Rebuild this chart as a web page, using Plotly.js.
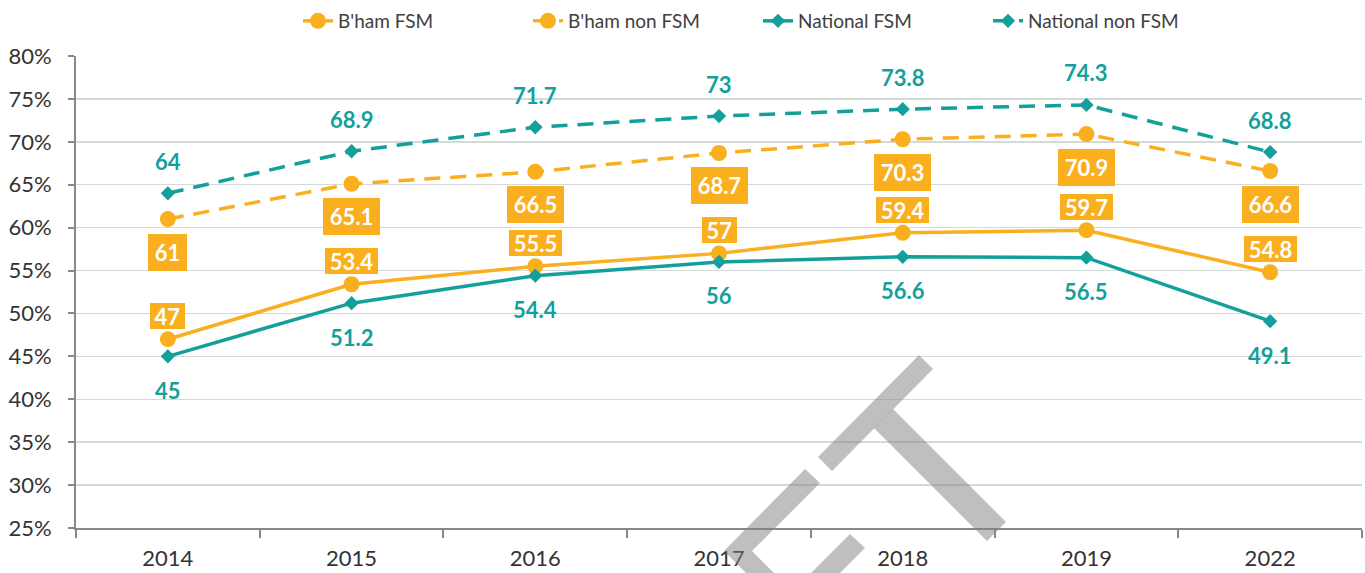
<!DOCTYPE html>
<html>
<head>
<meta charset="utf-8">
<script src="https://cdn.plot.ly/plotly-3.0.1.min.js"></script>
<style>html,body{margin:0;padding:0;background:#fff;}#chart{width:1365px;height:573px;}</style>
</head>
<body>
<div id="chart"></div>
<script>
// ---- data ----
const years = ['2014', '2015', '2016', '2017', '2018', '2019', '2022'];
const bhamFSM = [47, 53.4, 55.5, 57, 59.4, 59.7, 54.8];
const bhamNonFSM = [61, 65.1, 66.5, 68.7, 70.3, 70.9, 66.6];
const nationalFSM = [45, 51.2, 54.4, 56, 56.6, 56.5, 49.1];
const nationalNonFSM = [64, 68.9, 71.7, 73, 73.8, 74.3, 68.8];
const seriesNames = ["B'ham FSM", "B'ham non FSM", "National FSM", "National non FSM"];
const yTicks = [25, 30, 35, 40, 45, 50, 55, 60, 65, 70, 75, 80];

// ---- style ----
const ORANGE = '#F9AF1E';
const TEAL = '#14A09A';
const FONT = 'Lato, sans-serif';
const W = 1365, H = 573;
const M = {l: 76, r: 3, t: 56, b: 45};

const traces = [
  {x: years, y: bhamFSM, name: seriesNames[0], type: 'scatter', mode: 'lines+markers',
   line: {color: ORANGE, width: 3.5}, marker: {symbol: 'circle', size: 16, color: ORANGE}},
  {x: years, y: bhamNonFSM, name: seriesNames[1], type: 'scatter', mode: 'lines+markers',
   line: {color: ORANGE, width: 3.5, dash: '16px,10px'}, marker: {symbol: 'circle', size: 16, color: ORANGE}},
  {x: years, y: nationalFSM, name: seriesNames[2], type: 'scatter', mode: 'lines+markers',
   line: {color: TEAL, width: 3.5}, marker: {symbol: 'diamond', size: 11, color: TEAL}},
  {x: years, y: nationalNonFSM, name: seriesNames[3], type: 'scatter', mode: 'lines+markers',
   line: {color: TEAL, width: 3.5, dash: '16px,10px'}, marker: {symbol: 'diamond', size: 11, color: TEAL}}
];

// approximate bold label width (for box sizing)
function tw(s) { return s.replace('.', '').length * 12.8 + (s.indexOf('.') >= 0 ? 5.5 : 0); }

const annotations = [];
function addLabels(vals, opts) {
  vals.forEach((v, i) => {
    const t = String(v);
    // on a category axis, annotation x is the category index
    const a = {x: i, y: v, xref: 'x', yref: 'y', text: '<b>' + t + '</b>', showarrow: false,
      yshift: opts.shift, font: {family: FONT, size: 22, color: opts.color}};
    if (opts.box) {
      a.bgcolor = ORANGE; a.borderpad = 0; a.borderwidth = 0;
      a.width = Math.round(tw(t) + opts.padW); a.height = opts.boxH;
    }
    annotations.push(a);
  });
}
addLabels(nationalNonFSM, {shift: 32, color: TEAL});
addLabels(nationalFSM, {shift: -34, color: TEAL});
addLabels(bhamNonFSM, {shift: -33, color: '#ffffff', box: true, padW: 13, boxH: 37});
addLabels(bhamFSM, {shift: 23, color: '#ffffff', box: true, padW: 9, boxH: 26});

// watermark (decorative), pixel -> paper coordinates
const pw = W - M.l - M.r, ph = H - M.t - M.b;
function P(pts) {
  return 'M' + pts.map(p => ((p[0] - M.l) / pw).toFixed(5) + ',' + ((H - M.b - p[1]) / ph).toFixed(5)).join(' L') + ' Z';
}
const wm = [
  [[919,355],[933,369],[832,471],[818,457]],
  [[874,428],[893,409],[1006,522],[987,541]],
  [[805,469],[820,483],[752,551],[790,589],[762,589],[724,551]],
  [[850,534],[865,548],[809,604],[780,604]]
];
const shapes = wm.map(pts => ({type: 'path', xref: 'paper', yref: 'paper', path: P(pts),
  fillcolor: 'rgba(128,128,128,0.5)', line: {width: 0}, layer: 'above'}));

const layout = {
  width: W, height: H,
  margin: {l: M.l, r: M.r, t: M.t, b: M.b, autoexpand: false},
  paper_bgcolor: '#ffffff', plot_bgcolor: '#ffffff',
  font: {family: FONT, color: '#404040'},
  showlegend: true,
  legend: {orientation: 'h', x: (298 - M.l) / pw, xanchor: 'left', y: (H - M.b - 2) / ph, yanchor: 'top',
    font: {family: FONT, size: 19, color: '#404040'}, entrywidth: 185, entrywidthmode: 'pixels',
    bgcolor: 'rgba(0,0,0,0)'},
  xaxis: {type: 'category', range: [-0.5, 6.5], tickson: 'boundaries', ticks: 'outside', ticklen: 8,
    tickcolor: '#888888', tickwidth: 2, showline: true, linecolor: '#888888', linewidth: 2,
    showgrid: false, zeroline: false, tickfont: {family: FONT, size: 22, color: '#333333'},
    ticklabelstandoff: 10, automargin: false},
  yaxis: {range: [25, 80], tickvals: yTicks, ticktext: yTicks.map(v => v + '%'), ticks: 'outside',
    ticklen: 6, tickcolor: '#888888', tickwidth: 2, showline: true, linecolor: '#888888', linewidth: 2,
    showgrid: true, gridcolor: '#D2DADA', gridwidth: 1.5, zeroline: false,
    tickfont: {family: FONT, size: 22, color: '#333333'}, ticklabelstandoff: 12, automargin: false},
  annotations: annotations,
  shapes: shapes
};

Plotly.newPlot('chart', traces, layout, {displayModeBar: false, staticPlot: true});
</script>
</body>
</html>
